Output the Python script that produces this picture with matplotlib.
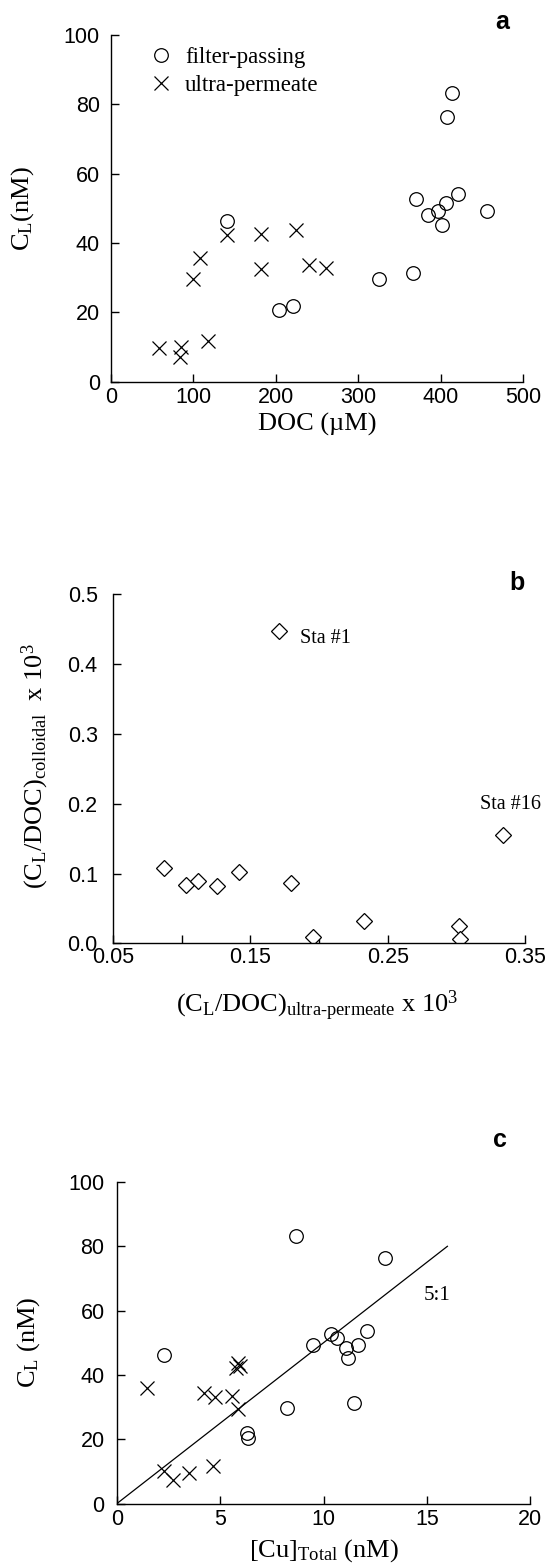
import matplotlib
matplotlib.use("Agg")
import matplotlib.pyplot as plt
from matplotlib.ticker import FixedLocator

# ---------------- data ----------------
# Panel a: C_L vs DOC
a_fp_doc = [140.4, 203.9, 220.8, 325.3, 365.9, 370.1, 384.9, 396.4, 401.9, 406.9, 407.4, 413.3, 420.9, 456.4]
a_fp_cl = [46.3, 20.7, 21.9, 29.6, 31.2, 52.8, 48.0, 49.3, 45.3, 51.4, 76.4, 83.3, 54.0, 49.1]
a_up_doc = [58.8, 85.4, 84.2, 99.4, 107.9, 117.2, 141.3, 181.9, 181.9, 224.2, 239.8, 261.0]
a_up_cl = [9.7, 9.9, 7.2, 29.6, 35.7, 11.6, 42.2, 42.7, 32.6, 43.7, 33.6, 32.8]

# Panel b: colloidal vs ultra-permeate C_L/DOC (x 10^3)
b_up = [0.0873, 0.1033, 0.1119, 0.1254, 0.1421, 0.1706, 0.1797, 0.1954, 0.2325, 0.3020, 0.3030, 0.3338]
b_col = [0.1086, 0.0833, 0.0899, 0.0823, 0.1025, 0.447, 0.0869, 0.0091, 0.0318, 0.0242, 0.0061, 0.1556]
b_labels = ["Sta #1", "Sta #16"]
b_label_xy = [(0.186, 0.437), (0.317, 0.1995)]

# Panel c: C_L vs total Cu
c_fp_cu = [2.28, 8.24, 6.30, 6.36, 8.66, 12.96, 9.49, 10.38, 10.67, 11.11, 11.19, 11.65, 12.10, 11.49]
c_fp_cl = [46.3, 29.6, 22.0, 20.4, 83.2, 76.4, 49.3, 52.8, 51.6, 48.4, 45.3, 49.4, 53.8, 31.4]
c_up_cu = [2.28, 2.69, 3.50, 4.66, 4.22, 4.76, 5.57, 5.85, 1.47, 5.75, 5.95, 5.85]
c_up_cl = [10.0, 7.4, 9.5, 11.6, 34.5, 33.1, 33.5, 29.5, 36.0, 42.2, 42.7, 43.7]
ratio_line_x = [0, 16]
ratio = 5

SERIF = "Liberation Serif"
SANS = "Liberation Sans"
plt.rcParams["font.family"] = SANS
plt.rcParams["mathtext.fontset"] = "custom"
plt.rcParams["mathtext.rm"] = SERIF
plt.rcParams["mathtext.it"] = SERIF + ":italic"
plt.rcParams["mathtext.bf"] = SERIF + ":bold"

W, H = 547, 1568
fig = plt.figure(figsize=(W / 100, H / 100), dpi=100)


def make_axes(left, top, right, bottom):
    return fig.add_axes([left / W, 1 - bottom / H, (right - left) / W, (bottom - top) / H])


def style(ax, xpad, ypad):
    for s in ["top", "right"]:
        ax.spines[s].set_visible(False)
    for s in ["left", "bottom"]:
        ax.spines[s].set_linewidth(1.0)
    ax.tick_params(which="both", direction="in", length=6, width=1.0, labelsize=15.5)
    ax.tick_params(axis="x", pad=xpad)
    ax.tick_params(axis="y", pad=ypad)


LBL = 19
mk = dict(linestyle="none", color="black")

# ---------------- panel a ----------------
axa = make_axes(111, 35, 523, 381.5)
axa.plot(a_fp_doc, a_fp_cl, marker="o", markersize=9.8, markerfacecolor="none",
         markeredgewidth=0.9, label="filter-passing", **mk)
axa.plot(a_up_doc, a_up_cl, marker="x", markersize=10, markeredgewidth=0.9,
         label="ultra-permeate", **mk)
axa.set_xlim(0, 500)
axa.set_ylim(0, 100)
axa.set_xticks([0, 100, 200, 300, 400, 500])
axa.set_yticks([0, 20, 40, 60, 80, 100])
style(axa, 4, 8)
axa.set_xlabel("DOC (µM)", family=SERIF, fontsize=LBL)
axa.xaxis.set_label_coords(0.5, -0.124)
axa.xaxis.label.set_va("center")
axa.set_ylabel(r"$\mathrm{C_L}$(nM)", family=SERIF, fontsize=LBL)
axa.yaxis.set_label_coords(-0.214, 0.5)
axa.yaxis.label.set_va("center")
leg = axa.legend(loc="upper left", bbox_to_anchor=(0.093, 0.965), frameon=False,
                 prop={"family": SERIF, "size": 16.5}, handlelength=1.0,
                 handletextpad=0.55, labelspacing=0.3, borderpad=0, borderaxespad=0)
fig.text(501.7 / W, 1 - 21.7 / H, "a", fontsize=18, fontweight="bold",
         family=SANS, ha="center", va="center")

# ---------------- panel b ----------------
axb = make_axes(113, 594.5, 525, 943.3)
axb.plot(b_up, b_col, marker="D", markersize=7.8, markerfacecolor="white",
         markeredgewidth=0.9, **mk)
for txt, (x, y) in zip(b_labels, b_label_xy):
    axb.text(x, y, txt, family=SERIF, fontsize=14.5, ha="left", va="center")
axb.set_xlim(0.05, 0.35)
axb.set_ylim(0, 0.5)
axb.set_xticks([0.05, 0.15, 0.25, 0.35])
axb.set_xticklabels(["0.05", "0.15", "0.25", "0.35"])
axb.xaxis.set_minor_locator(FixedLocator([0.10, 0.20, 0.30]))
axb.set_yticks([0.0, 0.1, 0.2, 0.3, 0.4, 0.5])
axb.set_yticklabels(["0.0", "0.1", "0.2", "0.3", "0.4", "0.5"])
style(axb, 3, 11)
axb.set_xlabel(r"$\mathrm{(C_L/DOC)_{ultra\text{-}permeate}}$ x 10$^3$", family=SERIF, fontsize=LBL)
axb.xaxis.set_label_coords(0.496, -0.178)
axb.xaxis.label.set_va("center")
axb.set_ylabel(r"$\mathrm{(C_L/DOC)_{colloidal}}$  x 10$^3$", family=SERIF, fontsize=LBL)
axb.yaxis.set_label_coords(-0.189, 0.507)
axb.yaxis.label.set_va("center")
fig.text(516.7 / W, 1 - 583.3 / H, "b", fontsize=18, fontweight="bold",
         family=SANS, ha="center", va="center")

# ---------------- panel c ----------------
axc = make_axes(117, 1182, 530, 1503.5)
axc.plot(c_fp_cu, c_fp_cl, marker="o", markersize=9.8, markerfacecolor="none",
         markeredgewidth=0.9, **mk)
axc.plot(c_up_cu, c_up_cl, marker="x", markersize=10, markeredgewidth=0.9, **mk)
axc.plot(ratio_line_x, [ratio * v for v in ratio_line_x], color="black", linewidth=0.9)
axc.text(15.5, 64.8, "5:1", family=SERIF, fontsize=15, ha="center", va="center")
axc.set_xlim(0, 20)
axc.set_ylim(0, 100)
axc.set_xticks([0, 5, 10, 15, 20])
axc.set_yticks([0, 20, 40, 60, 80, 100])
style(axc, 4, 9)
axc.set_xlabel(r"$\mathrm{[Cu]_{Total}}$ (nM)", family=SERIF, fontsize=LBL)
axc.xaxis.set_label_coords(0.5, -0.146)
axc.xaxis.label.set_va("center")
axc.set_ylabel(r"$\mathrm{C_L}$ (nM)", family=SERIF, fontsize=LBL)
axc.yaxis.set_label_coords(-0.215, 0.5)
axc.yaxis.label.set_va("center")
fig.text(500 / W, 1 - 1140 / H, "c", fontsize=18, fontweight="bold",
         family=SANS, ha="center", va="center")

fig.savefig("out.png", dpi=100)
